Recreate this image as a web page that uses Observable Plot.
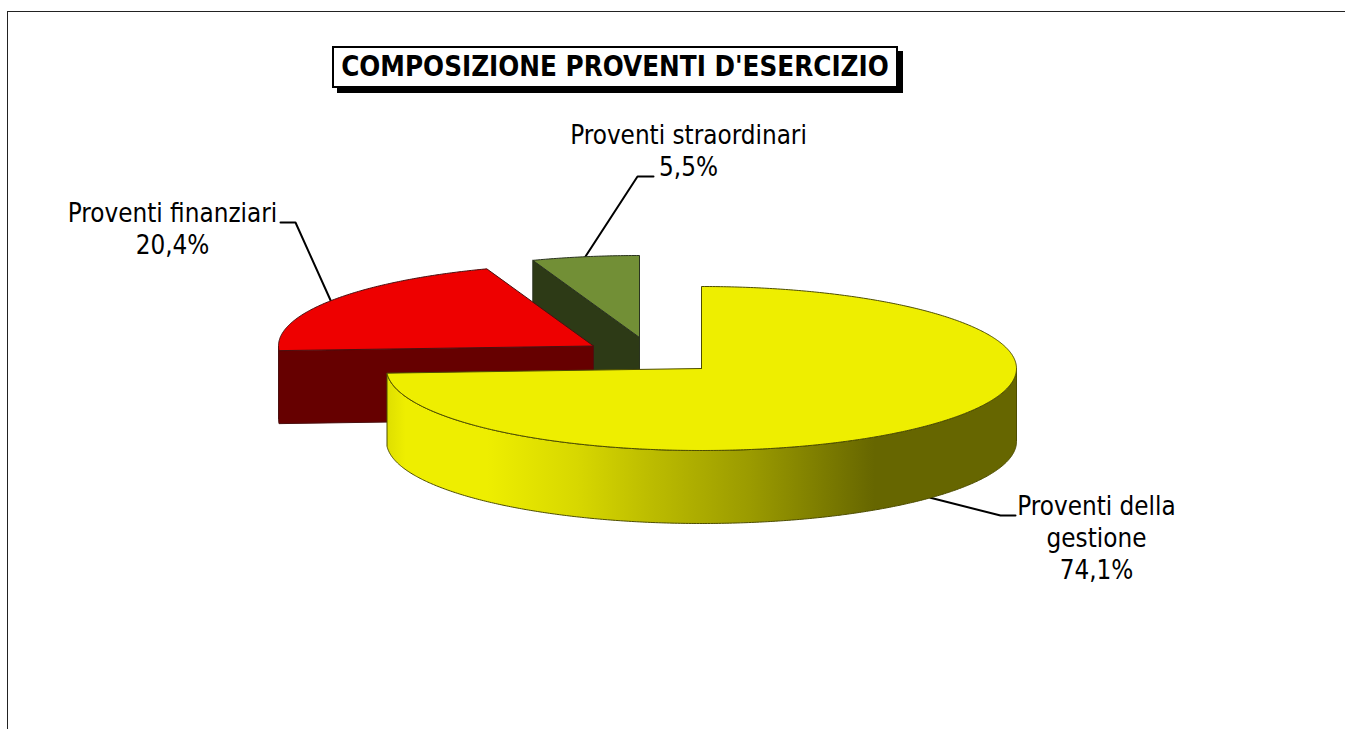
<!DOCTYPE html>
<html>
<head>
<meta charset="utf-8">
<script src="https://cdn.jsdelivr.net/npm/d3@7"></script>
<script src="https://cdn.jsdelivr.net/npm/@observablehq/plot@0.6"></script>
<style>
html,body{margin:0;padding:0;background:#fff;overflow:hidden}
#wrap{position:relative;width:1345px;height:729px;font-family:"DejaVu Sans Condensed","DejaVu Sans",sans-serif}
#frame{position:absolute;left:7px;top:10.5px;right:-3px;bottom:-3px;border:1.5px solid #222}
#title{position:absolute;left:332px;top:46px;width:562px;height:38px;border:2px solid #000;background:#fff;box-shadow:5px 5px 0 #000;
text-align:center;font-weight:bold;font-size:27.5px;line-height:37px;color:#000;white-space:nowrap}
svg{position:absolute;left:0;top:0;background:transparent}
</style>
</head>
<body>
<div id="wrap"><div id="frame"></div><div id="chart"></div><div id="title">COMPOSIZIONE PROVENTI D'ESERCIZIO</div></div>
<script>
// Data
const categories = ["Proventi della\ngestione", "Proventi finanziari", "Proventi straordinari"];
const values = [74.1, 20.4, 5.5];

// Slice look and layout (not data)
const topColors = ["#EEEE00", "#EE0000", "#728F36"];
const wallColors = ["url(#wallGradient)", "#660000", "#2D3A16"];
const edgeColors = ["#4d4d00", "#4a1010", "#2a3320"];
const centers = [[701, 368], [593, 345.5], [639, 337]];
const elbows = [[[1000, 515], [1015, 515]], [[295, 222], [280, 222]], [[637, 176], [653, 176]]];
const labelAt = [[1096, 536], [172, 227], [688, 149]];
const RX = 315, RY = 82, DEPTH = 73;

const W = 1345, H = 729;
let acc = 0;
const slices = values.map((v, i) => {
  const a0 = acc / 100 * 360; acc += v; const a1 = acc / 100 * 360;
  return {i, a0, a1, mid: (a0 + a1) / 2, c: centers[i]};
});
const rim = (s, a, dz = 0) => {
  const t = a * Math.PI / 180;
  return {x: s.c[0] + RX * Math.sin(t), y: s.c[1] - RY * Math.cos(t) + dz};
};
const arc = (s, a0, a1, dz = 0) => {
  const n = Math.max(2, Math.ceil(Math.abs(a1 - a0) * 2));
  return d3.range(n + 1).map(k => rim(s, a0 + (a1 - a0) * k / n, dz));
};
const apex = (s, dz = 0) => ({x: s.c[0], y: s.c[1] + dz});
const face = s => [apex(s), ...arc(s, s.a0, s.a1), apex(s)];
const polygon = (pts, fill, stroke) => Plot.line(pts, {x: "x", y: "y", fill, stroke, strokeWidth: 1, curve: "linear"});

const yellow = slices[0], red = slices[1], green = slices[2];
const yellowWall = [...arc(yellow, 90, yellow.a1), ...arc(yellow, yellow.a1, 90, DEPTH)];
yellowWall.push(yellowWall[0]);
const redWall = [apex(red), ...arc(red, red.a0, 270), ...arc(red, 270, red.a0, DEPTH), apex(red, DEPTH), apex(red)];
const greenWall = [apex(green), rim(green, green.a0), rim(green, green.a0, DEPTH), apex(green, DEPTH), apex(green)];

const leader = (s, start) => [start, ...elbows[s.i].map(([x, y]) => ({x, y}))];
const leaders = [leader(yellow, rim(yellow, yellow.mid, DEPTH)), leader(red, rim(red, red.mid)), leader(green, rim(green, green.mid))];

const labels = slices.map(s => ({
  text: categories[s.i] + "\n" + values[s.i].toFixed(1).replace(".", ",") + "%",
  x: labelAt[s.i][0], y: labelAt[s.i][1]
}));

const gradientDefs = () => {
  const defs = d3.create("svg:defs");
  const g = defs.append("linearGradient").attr("id", "wallGradient")
    .attr("gradientUnits", "userSpaceOnUse").attr("x1", 386).attr("x2", 1016).attr("y1", 0).attr("y2", 0);
  [[0, "#dede00"], [0.03, "#EEEE00"], [0.16, "#EEEE00"], [0.3, "#d8d800"], [0.42, "#bcbc00"], [0.58, "#9a9a00"], [0.775, "#666600"], [1, "#666600"]]
    .forEach(([o, c]) => g.append("stop").attr("offset", o).attr("stop-color", c));
  return defs.node();
};

const chart = Plot.plot({
  width: W, height: H, margin: 0,
  x: {domain: [0, W], range: [0, W], axis: null},
  y: {domain: [0, H], range: [0, H], axis: null},
  marks: [
    gradientDefs,
    ...leaders.map(l => Plot.line(l, {x: "x", y: "y", stroke: "#000", strokeWidth: 2, curve: "linear"})),
    polygon(greenWall, wallColors[2], edgeColors[2]),
    polygon(face(green), topColors[2], edgeColors[2]),
    polygon(redWall, wallColors[1], edgeColors[1]),
    polygon(face(red), topColors[1], edgeColors[1]),
    polygon(yellowWall, wallColors[0], edgeColors[0]),
    polygon(face(yellow), topColors[0], edgeColors[0]),
    Plot.text(labels, {x: "x", y: "y", text: "text", fontSize: 25.8, lineHeight: 1.24, fill: "#000", textAnchor: "middle", lineAnchor: "middle",
      fontFamily: '"DejaVu Sans Condensed","DejaVu Sans",sans-serif'})
  ]
});
chart.style.background = "transparent";
document.getElementById("chart").append(chart);
</script>
</body>
</html>
